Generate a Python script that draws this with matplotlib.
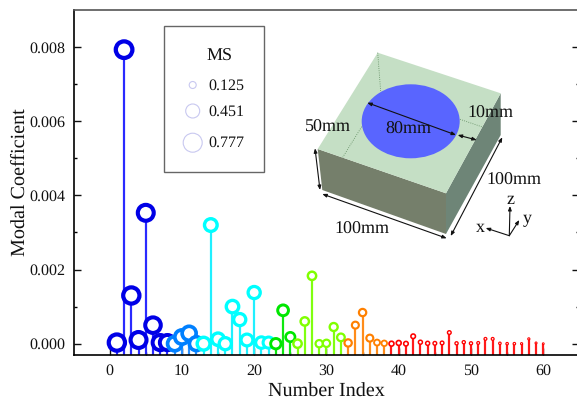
import matplotlib
matplotlib.use('Agg')
import matplotlib.pyplot as plt
from matplotlib.patches import Polygon, Ellipse, Rectangle, Circle

plt.rcParams['font.family'] = ['Liberation Serif', 'DejaVu Serif']
plt.rcParams['text.hinting'] = 'no_hinting'

# modal coefficient of each number index
index = list(range(1, 61))
coeff = [0.00003, 0.00793, 0.00130, 0.00010, 0.00353, 0.00050, 0.00003, 0.00003, 0.00000, 0.00018,
         0.00028, 0.00000, 0.00000, 0.00320, 0.00012, 0.00000, 0.00100, 0.00065, 0.00010, 0.00138,
         0.00003, 0.00003, 0.00000, 0.00090, 0.00018, 0.00000, 0.00060, 0.00183, 0.00000, 0.00001,
         0.00045, 0.00017, 0.00002, 0.00050, 0.00084, 0.00015, 0.00003, 0.00001, 0.00000, 0.00002,
         0.00000, 0.00020, 0.00004, 0.00001, 0.00001, 0.00002, 0.00030, 0.00001, 0.00004, 0.00001,
         0.00002, 0.00013, 0.00013, 0.00001, 0.00000, 0.00000, 0.00000, 0.00013, 0.00002, 0.00000]
ms = [.84, .86, .84, .82, .82, .80, .78, .78, .72, .72,
      .71, .70, .64, .63, .62, .60, .62, .60, .58, .60,
      .56, .54, .50, .52, .44, .38, .38, .38, .32, .32,
      .36, .34, .32, .30, .32, .30, .24, .22, .18, .18,
      .16, .16, .13, .13, .11, .11, .11, .08, .08, .08,
      .06, .06, .06, .04, .04, .04, .02, .02, .01, .00]
# last index of each colour group
group_end = [8, 12, 22, 25, 32, 38, 60]
group_ring = ['#0000E6', '#0080FF', '#00FFFF', '#00E600', '#80FF00', '#FF8000', '#FF0000']
group_stem = ['#2A2AFF', '#2A90FF', '#20F0FF', '#10E810', '#80FF10', '#FF8C1A', '#FF1A1A']
legend_ms = [0.125, 0.451, 0.777]


def group_of(i):
    for g, end in enumerate(group_end):
        if i <= end:
            return g


def px2pt(px):
    return px * 72 / 100


W, H = 577, 404
fig = plt.figure(figsize=(W / 100, H / 100), dpi=100)
left, right, top, bottom = 73.5, 579.4, 10, 355
ax = fig.add_axes([left / W, 1 - bottom / H, (right - left) / W, (bottom - top) / H])
ax.set_xlim(-5, 65)
ax.set_ylim(-0.000305, 0.009)

rings = [group_ring[group_of(i)] for i in index]
stems = [group_stem[group_of(i)] for i in index]
ax.vlines(index, -0.000305, coeff, colors=stems, linewidth=px2pt(2.2), zorder=2)

outer = [2.8 + 21 * m for m in ms]
edge = [0.5 + 0.18 * d for d in outer]
sizes = [px2pt(d - e) ** 2 for d, e in zip(outer, edge)]
ax.scatter(index, coeff, s=sizes, facecolors='white', edgecolors=rings,
           linewidths=[px2pt(e) for e in edge], zorder=3, clip_on=False)

ax.set_xticks(range(0, 61, 10))
ax.set_xticks(range(5, 61, 10), minor=True)
ax.set_yticks([0, 0.002, 0.004, 0.006, 0.008])
ax.set_yticks([0.001, 0.003, 0.005, 0.007], minor=True)
ax.yaxis.set_major_formatter(matplotlib.ticker.FormatStrFormatter('%.3f'))
ax.tick_params(which='major', direction='in', length=5, width=1.0, right=True,
               labelsize=11.5, colors='#111111', pad=6)
ax.tick_params(which='minor', direction='in', length=2.5, width=1.0, right=True)
for name in ax.spines:
    ax.spines[name].set_linewidth(1.2)
ax.spines['top'].set_color('#555555')
ax.set_xlabel('Number Index', fontsize=14.5, labelpad=4, color='#111111')
ax.set_ylabel('Modal Coefficient', fontsize=14.5, labelpad=0, color='#111111')

# overlay in picture pixels for the legend box and the block sketch
over = fig.add_axes([0, 0, 1, 1], zorder=5)
over.set_xlim(0, W)
over.set_ylim(H, 0)
over.axis('off')
over.patch.set_alpha(0)

over.add_patch(Rectangle((164, 25.7), 100.3, 146, fill=False, edgecolor='#666666', linewidth=1.0))
over.text(219, 56.7, 'MS', fontsize=13, ha='center', va='center', color='#111111')
for m, y, d in zip(legend_ms, [85, 111, 142.7], [7, 14, 19]):
    over.add_patch(Circle((192.7, y), d / 2, fill=False, edgecolor='#C8C8F0', linewidth=0.8))
    over.text(208, y + 0.5, f'{m:.3f}', fontsize=11.5, va='center', color='#111111')

top_face = [(377.7, 52.7), (500.7, 93.3), (446, 193.3), (317.7, 149)]
left_face = [(317.7, 149), (446, 193.3), (446, 234), (322.3, 190)]
right_face = [(446, 193.3), (500.7, 93.3), (500.7, 135), (446, 234)]
over.add_patch(Polygon(left_face, closed=True, facecolor='#757F6B', edgecolor='none'))
over.add_patch(Polygon(right_face, closed=True, facecolor='#6E8577', edgecolor='none'))
over.add_patch(Polygon(top_face, closed=True, facecolor='#C5DFC5', edgecolor='none'))
over.add_patch(Ellipse((410.7, 121.3), 98, 74, facecolor='#5965FF', edgecolor='none'))

for (x0, y0), (x1, y1) in [((377.7, 52.7), (380.7, 91.7)),
                           ((361.7, 126.7), (342.7, 157.3)),
                           ((460, 119.3), (483.3, 127.3))]:
    over.plot([x0, x1], [y0, y1], color='#5E8A5E', linewidth=0.6, linestyle=':')


def dim(p0, p1, style='<|-|>', lw=0.8):
    over.annotate('', xy=p1, xytext=p0, xycoords='data',
                  arrowprops=dict(arrowstyle=style + ',head_length=0.25,head_width=0.1', color='#111111',
                                  linewidth=lw, shrinkA=0, shrinkB=0))


dim((367.3, 102.7), (456, 135))
dim((457.7, 135), (476.7, 140))
dim((315, 148.3), (320, 190))
dim((322.3, 194), (446.7, 238.3))
dim((450.7, 236), (502.3, 137.3))
dim((509.3, 235.7), (510, 206), style='-|>')
dim((509.3, 235.7), (485.7, 228), style='-|>')
dim((509.3, 235.7), (519.3, 220), style='-|>')

for x, y, s in [(327.7, 127.3, '50mm'), (408.3, 129.3, '80mm'), (490, 114, '10mm'),
                (514, 180.7, '100mm'), (362, 229, '100mm'),
                (511, 200, 'z'), (527.3, 218.7, 'y'), (480, 227.3, 'x')]:
    over.text(x, y, s, fontsize=13, ha='center', va='center', color='#111111')

fig.savefig('out.png', dpi=100)
